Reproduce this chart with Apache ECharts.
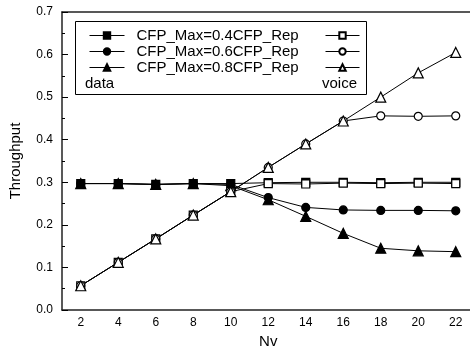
<!DOCTYPE html>
<html>
<head>
<meta charset="utf-8">
<script src="https://cdn.jsdelivr.net/npm/echarts@6/dist/echarts.min.js"></script>
<style>
  html, body { margin: 0; padding: 0; background: #fff; }
  #main { width: 470px; height: 350px; }
</style>
</head>
<body>
<div id="main"></div>
<script>
var nv = ['2', '4', '6', '8', '10', '12', '14', '16', '18', '20', '22'];

var data04 = [0.297, 0.297, 0.295, 0.297, 0.297, 0.299, 0.300, 0.300, 0.299, 0.300, 0.300];
var data06 = [0.297, 0.297, 0.295, 0.297, 0.295, 0.264, 0.241, 0.235, 0.234, 0.234, 0.233];
var data08 = [0.297, 0.297, 0.295, 0.297, 0.292, 0.259, 0.220, 0.180, 0.145, 0.139, 0.137];
var voice04 = [0.057, 0.112, 0.167, 0.223, 0.278, 0.297, 0.296, 0.298, 0.297, 0.298, 0.297];
var voice06 = [0.057, 0.112, 0.167, 0.223, 0.278, 0.335, 0.390, 0.444, 0.456, 0.455, 0.456];
var voice08 = [0.057, 0.112, 0.167, 0.223, 0.278, 0.335, 0.390, 0.444, 0.500, 0.557, 0.605];

var names = ['CFP_Max=0.4CFP_Rep', 'CFP_Max=0.6CFP_Rep', 'CFP_Max=0.8CFP_Rep'];
var voiceNames = ['voice 0.4', 'voice 0.6', 'voice 0.8'];

var myChart = echarts.init(document.getElementById('main'));

function line(name, values, symbol, filled) {
  return {
    name: name,
    type: 'line',
    data: values,
    symbol: symbol,
    symbolSize: symbol === 'triangle' ? 10 : 8,
    showSymbol: true,
    animation: false,
    lineStyle: { color: '#000', width: 1 },
    itemStyle: { color: filled ? '#000' : '#fff', borderColor: '#000', borderWidth: 1.2 }
  };
}

var font = 'Liberation Sans, Arial, sans-serif';

var option = {
  animation: false,
  grid: { left: 62, top: 12, width: 412.5, height: 298, containLabel: false, outerBoundsMode: 'none' },
  legend: [{
    data: names,
    orient: 'vertical',
    left: 84,
    top: 23,
    itemWidth: 35,
    itemHeight: 8,
    itemGap: 1,
    selectedMode: false,
    lineStyle: { width: 1 },
    textStyle: { fontSize: 15, color: '#000', fontFamily: font, padding: [0, 0, 0, 7] }
  }, {
    data: voiceNames,
    orient: 'vertical',
    left: 320,
    top: 23,
    itemWidth: 34,
    itemHeight: 8,
    itemGap: 1,
    selectedMode: false,
    lineStyle: { width: 1 },
    formatter: function () { return ' '; },
    textStyle: { fontSize: 15, color: '#000', fontFamily: font, padding: 0 }
  }],
  graphic: [{
    type: 'rect',
    shape: { x: 75.5, y: 21.5, width: 291, height: 73 },
    style: { fill: 'none', stroke: '#000', lineWidth: 1 },
    z: 1
  }, {
    type: 'text',
    left: 85,
    top: 76,
    style: { text: 'data', fontSize: 15, fill: '#000', fontFamily: font }
  }, {
    type: 'text',
    left: 322,
    top: 76,
    style: { text: 'voice', fontSize: 15, fill: '#000', fontFamily: font }
  }],
  xAxis: [{
    type: 'category',
    data: nv,
    boundaryGap: true,
    name: 'Nv',
    nameLocation: 'middle',
    nameGap: 24,
    nameTextStyle: { fontSize: 15, color: '#000', fontFamily: font },
    axisLine: { lineStyle: { color: '#222', width: 1.5 } },
    axisTick: { alignWithLabel: true, inside: true, length: 6, lineStyle: { color: '#000' } },
    axisLabel: { fontSize: 12, color: '#000', fontFamily: font, margin: 7 },
    splitLine: { show: false }
  }, {
    type: 'category',
    data: nv,
    position: 'top',
    boundaryGap: true,
    axisLine: { lineStyle: { color: '#222', width: 1.5 } },
    axisTick: { alignWithLabel: true, inside: true, length: 3, lineStyle: { color: '#000' } },
    axisLabel: { show: false },
    splitLine: { show: false }
  }],
  yAxis: {
    type: 'value',
    min: 0,
    max: 0.7,
    interval: 0.1,
    name: 'Throughput',
    nameLocation: 'middle',
    nameGap: 39,
    nameTextStyle: { fontSize: 15, color: '#000', fontFamily: font },
    axisLine: { show: true, lineStyle: { color: '#222', width: 1.5 } },
    axisTick: { show: true, inside: true, length: 6, lineStyle: { color: '#000' } },
    minorTick: { show: true, splitNumber: 2, length: 3, lineStyle: { color: '#000' } },
    axisLabel: { fontSize: 12, color: '#000', fontFamily: font, margin: 9,
      formatter: function (v) { return v.toFixed(1); } },
    splitLine: { show: false }
  },
  series: [
    line(names[0], data04, 'rect', true),
    line(names[1], data06, 'circle', true),
    line(names[2], data08, 'triangle', true),
    line(voiceNames[0], voice04, 'rect', false),
    line(voiceNames[1], voice06, 'circle', false),
    line(voiceNames[2], voice08, 'triangle', false)
  ]
};

myChart.setOption(option);
</script>
</body>
</html>
